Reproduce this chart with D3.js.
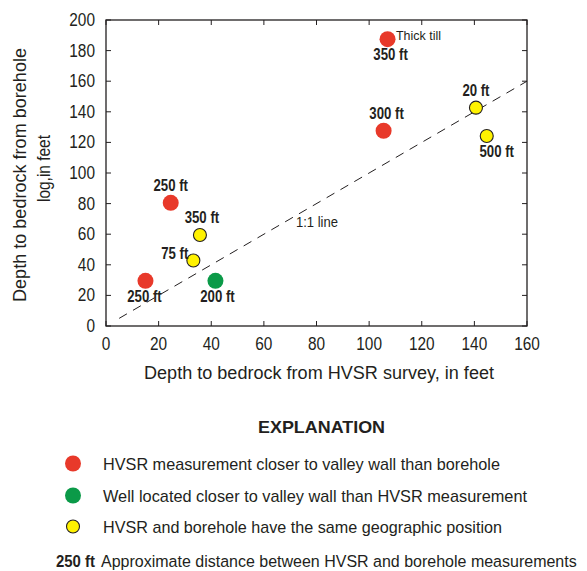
<!DOCTYPE html>
<html><head><meta charset="utf-8">
<script src="https://cdn.jsdelivr.net/npm/d3@7"></script>
<style>
body{margin:0;background:#fff;}
text{font-family:"Liberation Sans",Arial,sans-serif;fill:#231f20;}
</style></head><body>
<svg id="c" width="587" height="571"></svg>
<script>
// Data
const hvsr     = [15, 24.6, 35.7, 33.2, 41.6, 107, 105.5, 140.6, 144.7];
const borehole = [29.5, 80.5, 59.5, 42.8, 29.5, 187.5, 127.6, 142.7, 124.2];
const groups   = ["red","red","yellow","yellow","green","red","red","yellow","yellow"];
const labels   = ["250 ft","250 ft","350 ft","75 ft","200 ft","350 ft","300 ft","20 ft","500 ft"];
const labelPos = ["below","above","above","left","below","below","above","above","below"];
const xTicks = [0,20,40,60,80,100,120,140,160];
const yTicks = [0,20,40,60,80,100,120,140,160,180,200];
const legendItems = ["HVSR measurement closer to valley wall than borehole",
  "Well located closer to valley wall than HVSR measurement",
  "HVSR and borehole have the same geographic position"];
const legendGroups = ["red","green","yellow"];
const colors = {red:"#e8392a", green:"#0b9a48", yellow:"#fff200"};

const svg = d3.select("#c");
const L=106, R=527, T=20, B=326;
const x = d3.scaleLinear().domain([0,160]).range([L,R]);
const y = d3.scaleLinear().domain([0,200]).range([B,T]);
const axCol="#231f20";

function squeeze(sel, f){
  sel.each(function(){
    const n=this.getComputedTextLength();
    d3.select(this).attr("textLength",n*f).attr("lengthAdjust","spacingAndGlyphs");
  });
  return sel;
}
function fit(sel, w){ sel.attr("textLength",w).attr("lengthAdjust","spacingAndGlyphs"); return sel; }

// frame
svg.append("rect").attr("x",L).attr("y",T).attr("width",R-L).attr("height",B-T)
  .attr("fill","none").attr("stroke",axCol).attr("stroke-width",1.3);
const tl=5;
const g=svg.append("g").attr("stroke",axCol).attr("stroke-width",1);
xTicks.forEach(v=>{
  g.append("line").attr("x1",x(v)).attr("x2",x(v)).attr("y1",B).attr("y2",B-tl);
  g.append("line").attr("x1",x(v)).attr("x2",x(v)).attr("y1",T).attr("y2",T+tl);
});
yTicks.forEach(v=>{
  g.append("line").attr("y1",y(v)).attr("y2",y(v)).attr("x1",L).attr("x2",L+tl);
  g.append("line").attr("y1",y(v)).attr("y2",y(v)).attr("x1",R).attr("x2",R-tl);
});
// tick labels
squeeze(svg.selectAll(".xt").data(xTicks).enter().append("text")
  .attr("x",d=>x(d)).attr("y",350).attr("text-anchor","middle")
  .attr("font-size",17.5).text(d=>d), 0.88);
squeeze(svg.selectAll(".yt").data(yTicks).enter().append("text")
  .attr("x",95).attr("y",d=>y(d)+6).attr("text-anchor","end")
  .attr("font-size",17.5).text(d=>d), 0.88);

// axis titles
fit(svg.append("text").attr("x",144).attr("y",379)
  .attr("font-size",18).text("Depth to bedrock from HVSR survey, in feet"), 350);
const yl=svg.append("g").attr("transform","rotate(-90)");
fit(yl.append("text").attr("x",-302).attr("y",26).attr("font-size",18)
  .text("Depth to bedrock from borehole"), 254);
fit(yl.append("text").attr("x",-202).attr("y",50).attr("font-size",18)
  .text("log,in feet"), 67);

// 1:1 line
svg.append("line").attr("x1",x(5)).attr("y1",y(5)).attr("x2",x(160)).attr("y2",y(160))
  .attr("stroke","#231f20").attr("stroke-width",1).attr("stroke-dasharray","9,7");
fit(svg.append("text").attr("x",296).attr("y",227).attr("font-size",14).attr("fill","#3a3a3a").text("1:1 line"), 42);

// points
const pts=hvsr.map((h,i)=>({h,b:borehole[i],g:groups[i],l:labels[i],p:labelPos[i]}));
svg.selectAll(".pt").data(pts).enter().append("circle")
  .attr("cx",d=>x(d.h)).attr("cy",d=>y(d.b))
  .attr("r",d=>d.g==="yellow"?6.5:8)
  .attr("fill",d=>colors[d.g])
  .attr("stroke",d=>d.g==="yellow"?"#231f20":"none").attr("stroke-width",1.1);
squeeze(svg.selectAll(".pl").data(pts).enter().append("text")
  .attr("font-weight","bold").attr("font-size",16.5)
  .attr("text-anchor",d=>d.p==="left"?"end":"middle")
  .attr("x",(d,i)=>{
    if(d.p==="left") return x(d.h)-5;
    const off=[-1,0,2,0,2,3,3,0,10][i];
    return x(d.h)+off;})
  .attr("y",d=>d.p==="above"?y(d.b)-12:d.p==="below"?y(d.b)+21:y(d.b)-2)
  .text(d=>d.l), 0.8);
fit(svg.append("text").attr("x",396).attr("y",40).attr("font-size",13).attr("fill","#3a3a3a").text("Thick till"), 45);

// legend
fit(svg.append("text").attr("x",258).attr("y",433)
  .attr("font-weight","bold").attr("font-size",17)
  .text("EXPLANATION"), 127);
const ly=[463.5,495.5,526.5];
const lw=[397,424,399];
legendItems.forEach((t,i)=>{
  const gg=legendGroups[i];
  svg.append("circle").attr("cx",73).attr("cy",ly[i])
    .attr("r",gg==="yellow"?6.5:8).attr("fill",colors[gg])
    .attr("stroke",gg==="yellow"?"#231f20":"none").attr("stroke-width",1.1);
  fit(svg.append("text").attr("x",103).attr("y",ly[i]+6).attr("font-size",17).text(t), lw[i]);
});
fit(svg.append("text").attr("x",56).attr("y",567)
  .attr("font-weight","bold").attr("font-size",16).text("250 ft"), 39);
const lastG = svg.append("g");
const lastT = lastG.append("text").attr("x",0).attr("y",0).attr("font-size",17)
  .text("Approximate distance between HVSR and borehole measurements");
const natW = lastT.node().getComputedTextLength();
lastG.attr("transform",`translate(101,567) scale(${476/natW},1)`);
</script></body></html>
